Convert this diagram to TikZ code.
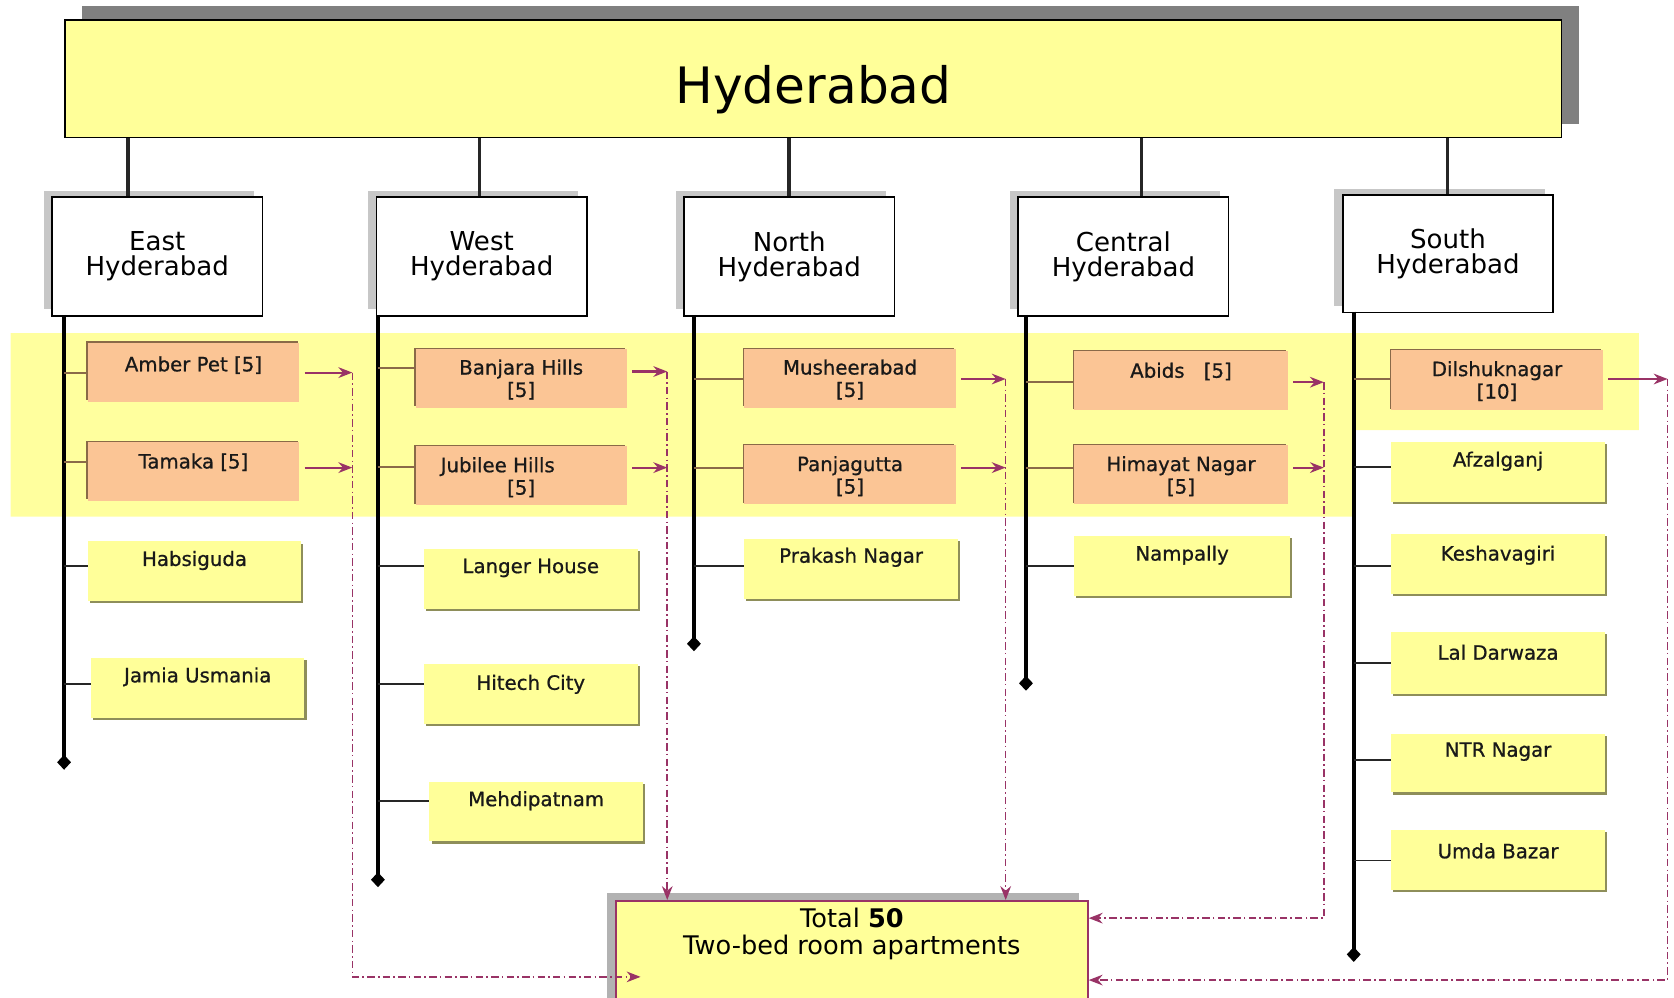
\documentclass[tikz,border=0pt]{standalone}
\usepackage{fontspec}
\setmainfont{DejaVu Sans}
\newfontfamily\lblfont[FakeBold=0.8]{DejaVu Sans}
\usetikzlibrary{arrows.meta,shadows}
\definecolor{banfill}{HTML}{FFFF99}
\definecolor{bandfill}{HTML}{FFFF9E}
\definecolor{peach}{HTML}{FBC595}
\definecolor{pedge}{HTML}{8A6A48}
\definecolor{yfill}{HTML}{FFFF99}
\definecolor{yedge}{HTML}{8E8E5A}
\definecolor{plum}{HTML}{993366}
\begin{document}
\begin{tikzpicture}[x=1pt,y=-1pt,
 city/.style={draw=black, line width=1.5pt, fill=banfill, minimum width=1402pt, minimum height=110pt, anchor=north west, inner sep=0pt, drop shadow={shadow xshift=16pt, shadow yshift=13pt, fill=black!50, opacity=1}},
 region/.style={draw=black, line width=1.5pt, fill=white, minimum width=197pt, minimum height=111pt, anchor=north west, inner sep=0pt, align=center, font=\fontsize{24.4}{23.5}\selectfont, drop shadow={shadow xshift=-8pt, shadow yshift=6pt, fill=black!22, opacity=1}},
 obox/.style={fill=peach, inner sep=0pt, anchor=north west, minimum width=198pt, minimum height=55pt, drop shadow={shadow xshift=-1.5pt, shadow yshift=1.5pt, fill=pedge, opacity=1}},
 ybx/.style={fill=yfill, inner sep=0pt, anchor=north west, minimum width=200pt, minimum height=56pt, drop shadow={shadow xshift=2pt, shadow yshift=-2pt, fill=yedge, opacity=1}},
 lbl/.style={font=\lblfont\fontsize{18.5}{21}\selectfont, align=center, inner sep=0pt, text=black!90},
 tlbl/.style={font=\fontsize{24}{25}\selectfont, align=center, inner sep=0pt},
 totalbox/.style={draw=plum, line width=1.8pt, fill=yfill, anchor=north west, minimum width=442pt, minimum height=130pt, inner sep=0pt, drop shadow={shadow xshift=-8pt, shadow yshift=7pt, fill=black!30, opacity=1}},
 bconn/.style={line width=3.2pt, black!85},
 trunk/.style={line width=3.8pt, black, -{Diamond[length=14pt,width=13pt]}},
 oconn/.style={line width=1.8pt, pedge},
 yconn/.style={line width=1.8pt, black!85},
 flow/.style={line width=2pt, plum, shorten <=5pt, -{Stealth[length=13pt,width=10pt]}},
 dd/.style={line width=1.5pt, plum, dash pattern=on 7pt off 3pt on 1.5pt off 3pt},
 ddarrow/.style={dd, -{Stealth[length=13pt,width=10pt]}}
]
\useasboundingbox (0,0) rectangle (1568,934);
\clip (0,0) rectangle (1568,934);

% highlight band
\fill[bandfill] (10,312) -- (1535,312) -- (1535,403) -- (1268,403) -- (1268,484) -- (10,484) -- cycle;

% banner
\node[city] (city) at (60,18) {};
\node[font=\fontsize{47}{50}\selectfont, inner sep=0pt] (city-t) at (762,84) {Hyderabad};

% regions
\node[region] (east) at (48,184) {East\\Hyderabad};
\node[region] (west) at (352,184) {West\\Hyderabad};
\node[region] (north) at (640,184) {North\\Hyderabad};
\node[region] (central) at (953,184) {Central\\Hyderabad};
\node[region, minimum height=110pt] (south) at (1257,182) {South\\Hyderabad};

% banner connectors
\coordinate (b1) at (120,129);
\coordinate (b2) at (449,129);
\coordinate (b3) at (739,129);
\coordinate (b4) at (1069,129);
\coordinate (b5) at (1356,129);
\draw[bconn] (b1) -- (b1 |- east.north);
\draw[bconn] (b2) -- (b2 |- west.north);
\draw[bconn] (b3) -- (b3 |- north.north);
\draw[bconn] (b4) -- (b4 |- central.north);
\draw[bconn] (b5) -- (b5 |- south.north);

% trunks
\coordinate (eT) at (60,295);   \coordinate (eB) at (60,721);
\coordinate (wT) at (354,295);  \coordinate (wB) at (354,831);
\coordinate (nT) at (650,295);  \coordinate (nB) at (650,610);
\coordinate (cT) at (961,295);  \coordinate (cB) at (961,647);
\coordinate (sT) at (1268,292); \coordinate (sB) at (1268,901);

% ---------- East ----------
\node[obox] (amber) at (82,321) {};
\node[lbl] (amber-t) at ([yshift=-21pt]amber.north) {Amber Pet [5]};
\node[obox] (tamaka) at (82,414) {};
\node[lbl] (tamaka-t) at ([yshift=-19pt]tamaka.north) {Tamaka [5]};
\node[ybx] (habs) at (82,507) {};
\node[lbl] (habs-t) at ([yshift=-18pt]habs.north) {Habsiguda};
\node[ybx] (jamia) at (85,616) {};
\node[lbl] (jamia-t) at ([yshift=-18pt]jamia.north) {Jamia Usmania};

% ---------- West ----------
\node[obox] (banjara) at (389,327) {};
\node[lbl] (banjara-t) at ([yshift=-28.5pt]banjara.north) {Banjara Hills\\{}[5]};
\node[obox] (jubilee) at (389,418) {};
\node[lbl] (jubilee-t) at ([yshift=-29pt]jubilee.north) {Jubilee Hills\hspace*{44pt}\\{}[5]};
\node[ybx] (langer) at (397,514) {};
\node[lbl] (langer-t) at ([yshift=-18pt]langer.north) {Langer House};
\node[ybx] (hitech) at (397,622) {};
\node[lbl] (hitech-t) at ([yshift=-19pt]hitech.north) {Hitech City};
\node[ybx] (mehdi) at (402,732) {};
\node[lbl] (mehdi-t) at ([yshift=-18pt]mehdi.north) {Mehdipatnam};

% ---------- North ----------
\node[obox] (mush) at (697,327) {};
\node[lbl] (mush-t) at ([yshift=-28.5pt]mush.north) {Musheerabad\\{}[5]};
\node[obox] (panja) at (697,417) {};
\node[lbl] (panja-t) at ([yshift=-29pt]panja.north) {Panjagutta\\{}[5]};
\node[ybx] (prakash) at (697,505) {};
\node[lbl] (prakash-t) at ([yshift=-17pt]prakash.north) {Prakash Nagar};

% ---------- Central ----------
\node[obox, minimum width=200pt] (abids) at (1006,329) {};
\node[lbl] (abids-t) at ([yshift=-19pt]abids.north) {Abids\hspace{18pt}[5]};
\node[obox, minimum width=200pt] (himayat) at (1006,417) {};
\node[lbl] (himayat-t) at ([yshift=-29pt]himayat.north) {Himayat Nagar\\{}[5]};
\node[ybx, minimum width=202pt] (nampally) at (1006,502) {};
\node[lbl] (nampally-t) at ([yshift=-18pt]nampally.north) {Nampally};

% ---------- South ----------
\node[obox, minimum height=56pt] (dilshuk) at (1303,328) {};
\node[lbl] (dilshuk-t) at ([yshift=-29pt]dilshuk.north) {Dilshuknagar\\{}[10]};
\node[ybx] (afzal) at (1303,414) {};
\node[lbl] (afzal-t) at ([yshift=-18pt]afzal.north) {Afzalganj};
\node[ybx] (kesh) at (1303,500) {};
\node[lbl] (kesh-t) at ([yshift=-20pt]kesh.north) {Keshavagiri};
\node[ybx, minimum height=58pt] (lal) at (1303,592) {};
\node[lbl] (lal-t) at ([yshift=-19pt]lal.north) {Lal Darwaza};
\node[ybx, minimum height=55pt] (ntr) at (1303,687) {};
\node[lbl] (ntr-t) at ([yshift=-17pt]ntr.north) {NTR Nagar};
\node[ybx] (umda) at (1303,777) {};
\node[lbl] (umda-t) at ([yshift=-20pt]umda.north) {Umda Bazar};

% total
\node[totalbox] (total) at (576,843) {};
\node[tlbl] (total-t) at ([yshift=-32pt]total.north) {Total \textbf{50}\\Two-bed room apartments};

% trunks drawn
\draw[trunk] (eT) -- (eB);
\draw[trunk] (wT) -- (wB);
\draw[trunk] (nT) -- (nB);
\draw[trunk] (cT) -- (cB);
\draw[trunk] (sT) -- (sB);

% connectors trunk -> boxes
\coordinate (e1) at (60,349);  \draw[oconn] (e1) -- (e1 -| amber.west);
\coordinate (e2) at (60,433);  \draw[oconn] (e2) -- (e2 -| tamaka.west);
\coordinate (e3) at (60,530);  \draw[yconn] (e3) -- (e3 -| habs.west);
\coordinate (e4) at (60,641);  \draw[yconn] (e4) -- (e4 -| jamia.west);
\coordinate (w1) at (354,345); \draw[oconn] (w1) -- (w1 -| banjara.west);
\coordinate (w2) at (354,437); \draw[oconn] (w2) -- (w2 -| jubilee.west);
\coordinate (w3) at (354,530); \draw[yconn] (w3) -- (w3 -| langer.west);
\coordinate (w4) at (354,641); \draw[yconn] (w4) -- (w4 -| hitech.west);
\coordinate (w5) at (354,750); \draw[yconn] (w5) -- (w5 -| mehdi.west);
\coordinate (n1) at (650,355); \draw[oconn] (n1) -- (n1 -| mush.west);
\coordinate (n2) at (650,438); \draw[oconn] (n2) -- (n2 -| panja.west);
\coordinate (n3) at (650,530); \draw[yconn] (n3) -- (n3 -| prakash.west);
\coordinate (c1) at (961,358); \draw[oconn] (c1) -- (c1 -| abids.west);
\coordinate (c2) at (961,438); \draw[oconn] (c2) -- (c2 -| himayat.west);
\coordinate (c3) at (961,530); \draw[yconn] (c3) -- (c3 -| nampally.west);
\coordinate (s1) at (1268,355); \draw[oconn] (s1) -- (s1 -| dilshuk.west);
\coordinate (s2) at (1268,437); \draw[yconn] (s2) -- (s2 -| afzal.west);
\coordinate (s3) at (1268,530); \draw[yconn] (s3) -- (s3 -| kesh.west);
\coordinate (s4) at (1268,621); \draw[yconn] (s4) -- (s4 -| lal.west);
\coordinate (s5) at (1268,712); \draw[yconn] (s5) -- (s5 -| ntr.west);
\coordinate (s6) at (1268,806); \draw[yconn] (s6) -- (s6 -| umda.west);

% dashed collector lines
\coordinate (dE1) at (330,349); \coordinate (dE2) at (330,438); \coordinate (dE3) at (330,915);
\coordinate (dW1) at (625,348); \coordinate (dW2) at (625,438);
\coordinate (dN1) at (942,355); \coordinate (dN2) at (942,438);
\coordinate (dC1) at (1240,358); \coordinate (dC2) at (1240,438); \coordinate (dC3) at (1240,860);
\coordinate (dS1) at (1562,355); \coordinate (dS2) at (1562,918);

\draw[ddarrow] (dE1) -- (dE3) -- ([xshift=24pt]dE3 -| total.west);
\draw[ddarrow] (dW1) -- (dW1 |- total.north);
\draw[ddarrow] (dN1) -- (dN1 |- total.north);
\draw[ddarrow] (dC1) -- (dC3) -- (dC3 -| total.east);
\draw[ddarrow] (dS1) -- (dS2) -- (dS2 -| total.east);

% arrows from highlighted boxes
\draw[flow] (amber.east |- dE1) -- (dE1);
\draw[flow] (tamaka.east |- dE2) -- (dE2);
\draw[flow] (banjara.east |- dW1) -- (dW1);
\draw[flow] (jubilee.east |- dW2) -- (dW2);
\draw[flow] (mush.east |- dN1) -- (dN1);
\draw[flow] (panja.east |- dN2) -- (dN2);
\draw[flow] (abids.east |- dC1) -- (dC1);
\draw[flow] (himayat.east |- dC2) -- (dC2);
\draw[flow] (dilshuk.east |- dS1) -- (dS1);
\end{tikzpicture}
\end{document}
